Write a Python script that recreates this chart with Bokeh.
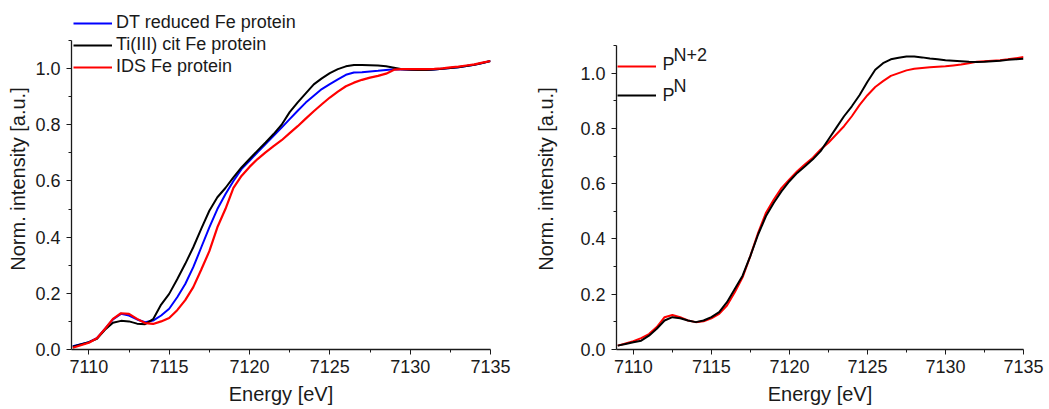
from bokeh.plotting import figure
from bokeh.layouts import row
from bokeh.models import Legend, LegendItem, Label, Range1d, FixedTicker
from bokeh.embed import file_html
from bokeh.resources import INLINE

# Energy grid shared by all spectra (eV)
energy = [7109 + 0.5 * i for i in range(53)]

# Left panel: Fe protein in different reduction states
dt_reduced = [0.012, 0.019, 0.026, 0.040, 0.073, 0.107, 0.127, 0.121, 0.107, 0.097,
              0.103, 0.121, 0.145, 0.186, 0.233, 0.293, 0.364, 0.435, 0.500, 0.553,
              0.600, 0.642, 0.672, 0.702, 0.731, 0.761, 0.790, 0.820, 0.850, 0.879,
              0.903, 0.927, 0.945, 0.962, 0.978, 0.986, 0.987, 0.990, 0.992, 0.995,
              0.998, 0.997, 0.996, 0.995, 0.995, 0.997, 0.999, 1.002, 1.005, 1.009,
              1.014, 1.020, 1.027]
ti_cit = [0.010, 0.018, 0.026, 0.038, 0.070, 0.095, 0.102, 0.100, 0.092, 0.090,
          0.108, 0.160, 0.198, 0.250, 0.305, 0.364, 0.430, 0.494, 0.542, 0.575,
          0.613, 0.648, 0.678, 0.708, 0.737, 0.767, 0.800, 0.845, 0.880, 0.912,
          0.944, 0.965, 0.984, 0.998, 1.008, 1.013, 1.013, 1.012, 1.011, 1.008,
          1.003, 0.998, 0.996, 0.995, 0.995, 0.997, 0.999, 1.002, 1.005, 1.009,
          1.014, 1.020, 1.027]
ids = [0.006, 0.015, 0.024, 0.040, 0.073, 0.109, 0.129, 0.127, 0.109, 0.094,
       0.091, 0.100, 0.112, 0.140, 0.176, 0.222, 0.285, 0.350, 0.435, 0.500,
       0.575, 0.618, 0.650, 0.678, 0.702, 0.724, 0.745, 0.770, 0.795, 0.822,
       0.848, 0.873, 0.897, 0.918, 0.937, 0.950, 0.960, 0.968, 0.974, 0.982,
       0.996, 0.998, 0.998, 0.998, 0.998, 0.999, 1.001, 1.004, 1.007, 1.011,
       1.015, 1.021, 1.027]

# Right panel: P-cluster states
p_n2 = [0.014, 0.022, 0.030, 0.041, 0.056, 0.081, 0.117, 0.125, 0.117, 0.105,
        0.099, 0.102, 0.113, 0.129, 0.159, 0.207, 0.261, 0.339, 0.423, 0.495,
        0.543, 0.585, 0.615, 0.645, 0.670, 0.694, 0.724, 0.748, 0.778, 0.808,
        0.844, 0.885, 0.920, 0.950, 0.971, 0.990, 1.000, 1.010, 1.016, 1.019,
        1.021, 1.023, 1.025, 1.028, 1.031, 1.036, 1.041, 1.043, 1.045, 1.047,
        1.050, 1.054, 1.058]
p_n = [0.014, 0.020, 0.026, 0.032, 0.050, 0.075, 0.105, 0.117, 0.113, 0.105,
       0.099, 0.105, 0.117, 0.135, 0.171, 0.219, 0.267, 0.339, 0.417, 0.483,
       0.531, 0.573, 0.609, 0.639, 0.663, 0.688, 0.718, 0.760, 0.802, 0.844,
       0.880, 0.921, 0.969, 1.012, 1.036, 1.050, 1.056, 1.060, 1.060, 1.057,
       1.053, 1.050, 1.047, 1.045, 1.043, 1.041, 1.040, 1.041, 1.043, 1.045,
       1.048, 1.050, 1.052]

x_ticks = [7110, 7115, 7120, 7125, 7130, 7135]
y_ticks = [0.0, 0.2, 0.4, 0.6, 0.8, 1.0]
y_axis_top = 1.1

FONT = "Liberation Sans"
INK = "#1a1a1a"

# Both frames run from y=8 to y=349; the visible axis stops at 1.1
FRAME_TOP = 8
FRAME_BOTTOM = 349


def make_panel(width, left, right, label_standoff, axis_top_px):
    y_end = y_axis_top * (FRAME_BOTTOM - FRAME_TOP) / (FRAME_BOTTOM - axis_top_px)
    p = figure(width=width, height=409, output_backend="svg", toolbar_location=None,
               x_range=Range1d(7108.92, 7135), y_range=Range1d(0, y_end),
               min_border_left=left, min_border_right=right,
               min_border_top=FRAME_TOP, min_border_bottom=409 - FRAME_BOTTOM)
    p.outline_line_color = None
    p.grid.visible = False
    p.background_fill_color = "white"
    p.border_fill_color = "white"
    p.xaxis.ticker = FixedTicker(ticks=x_ticks, minor_ticks=[7112.5, 7117.5, 7122.5, 7127.5, 7132.5])
    p.yaxis.ticker = FixedTicker(ticks=y_ticks, minor_ticks=[0.1, 0.3, 0.5, 0.7, 0.9, 1.1])
    p.yaxis.bounds = (0, y_axis_top)
    for ax in (p.xaxis, p.yaxis):
        ax.axis_line_color = INK
        ax.axis_line_width = 1.3
        ax.major_tick_line_color = INK
        ax.minor_tick_line_color = INK
        ax.major_tick_in = 0
        ax.major_tick_out = 5
        ax.minor_tick_in = 0
        ax.minor_tick_out = 3
        ax.major_label_text_font = FONT
        ax.major_label_text_font_size = "18px"
        ax.major_label_text_color = INK
        ax.axis_label_text_font = FONT
        ax.axis_label_text_font_size = "20px"
        ax.axis_label_text_font_style = "normal"
        ax.axis_label_text_color = INK
    p.xaxis.axis_label = "Energy [eV]"
    p.yaxis.axis_label = "Norm. intensity [a.u.]"
    p.xaxis.major_label_standoff = 5
    p.xaxis.axis_label_standoff = 7
    p.yaxis.major_label_standoff = 6
    p.yaxis.axis_label_standoff = label_standoff
    p.yaxis.major_label_overrides = {v: f"{v:.1f}" for v in y_ticks}
    return p


# ---- left panel ----
p1 = make_panel(520, 71, 30, 3, axis_top_px=40)
r_dt = p1.line(energy, dt_reduced, line_color="#0000ff", line_width=2)
r_ti = p1.line(energy, ti_cit, line_color="#000000", line_width=2)
r_ids = p1.line(energy, ids, line_color="#ff0000", line_width=2.2)

leg1 = Legend(items=[LegendItem(label="DT reduced Fe protein", renderers=[r_dt]),
                     LegendItem(label="Ti(III) cit Fe protein", renderers=[r_ti]),
                     LegendItem(label="IDS Fe protein", renderers=[r_ids])],
              location=(2, 272), padding=0, margin=0, spacing=1,
              glyph_width=39, glyph_height=20, label_height=20, label_standoff=4,
              label_text_font=FONT, label_text_font_size="18px", label_text_color=INK,
              background_fill_alpha=0, border_line_alpha=0)
p1.add_layout(leg1, "center")

# ---- right panel ----
p2 = make_panel(529, 96, 26, 20, axis_top_px=45)
r_pn2 = p2.line(energy, p_n2, line_color="#ff0000", line_width=2)
r_pn = p2.line(energy, p_n, line_color="#000000", line_width=2)

# legend keeps only the line samples; the state names are set as base + superscript
leg2 = Legend(items=[LegendItem(label=" ", renderers=[r_pn2]),
                     LegendItem(label=" ", renderers=[r_pn])],
              location=(1, 244), padding=0, margin=0, spacing=9,
              glyph_width=39, glyph_height=20, label_height=20, label_standoff=6,
              label_text_font=FONT, label_text_font_size="18px", label_text_color=INK,
              background_fill_alpha=0, border_line_alpha=0)
p2.add_layout(leg2, "center")

state_names = [("P", "N+2"), ("P", "N")]
name_rows = [286, 255]   # vertical centres of "P", measured up from the frame bottom
for (base, sup), y in zip(state_names, name_rows):
    p2.add_layout(Label(x=46, y=y, x_units="screen", y_units="screen", text=base,
                        text_font=FONT, text_font_size="18px", text_color=INK,
                        text_baseline="middle"))
    p2.add_layout(Label(x=57, y=y + 9, x_units="screen", y_units="screen", text=sup,
                        text_font=FONT, text_font_size="18px", text_color=INK,
                        text_baseline="middle"))

layout = row(p1, p2)
open("out.html", "w").write(file_html(layout, INLINE))
